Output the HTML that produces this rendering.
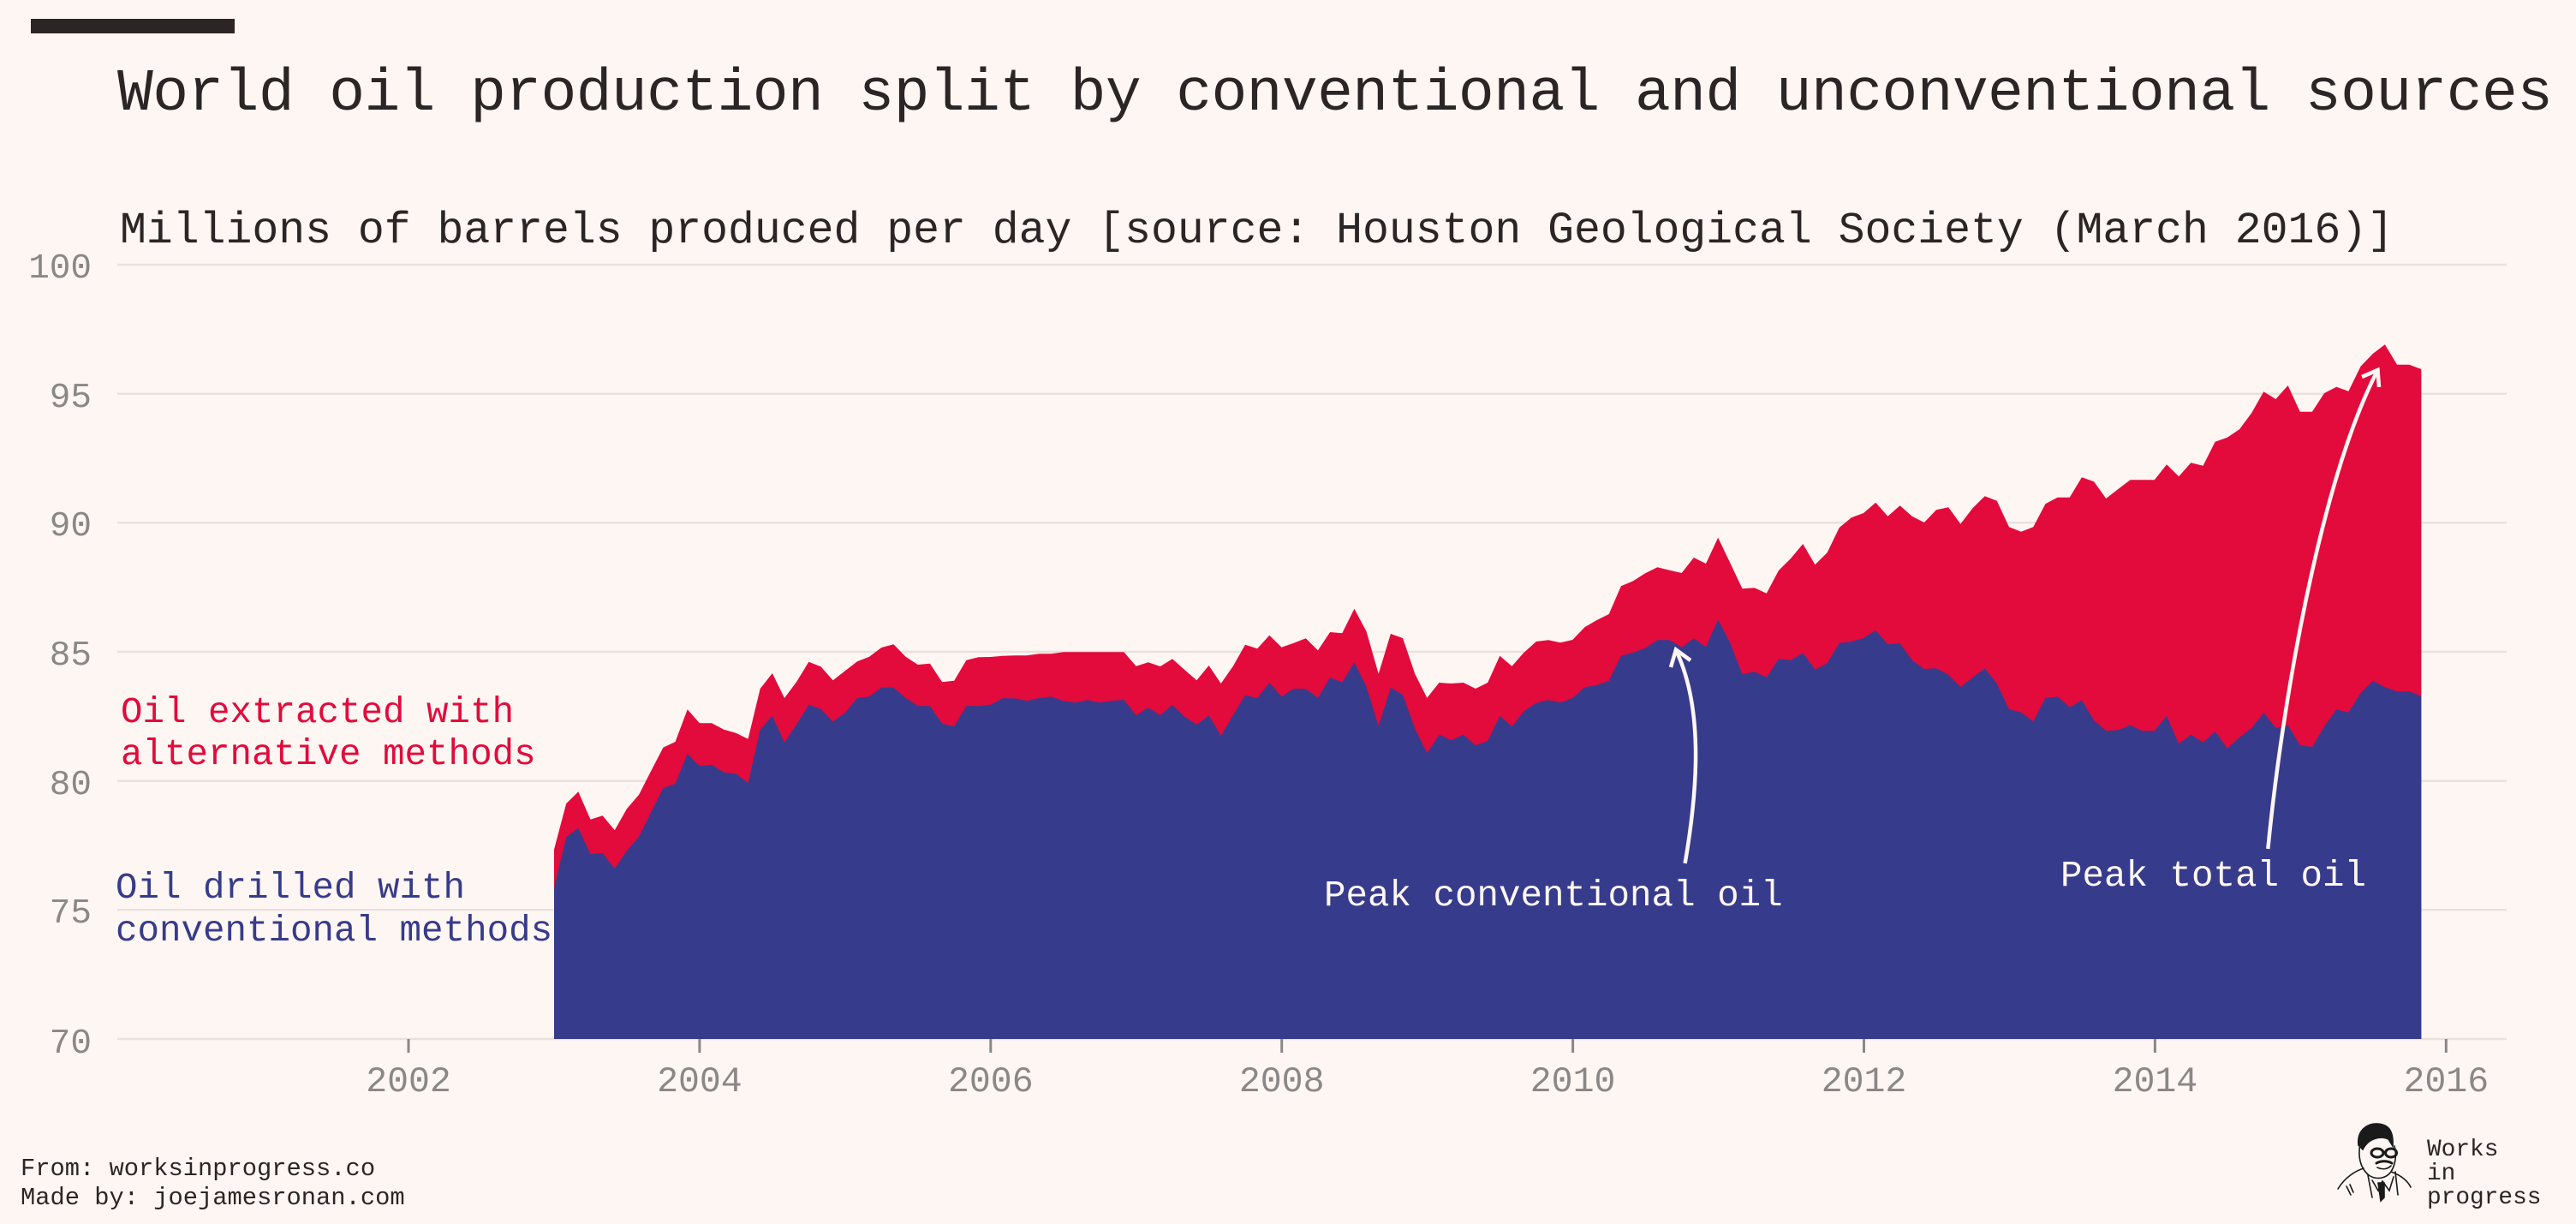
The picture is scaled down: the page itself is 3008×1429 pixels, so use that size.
<!DOCTYPE html>
<html>
<head>
<meta charset="utf-8">
<style>
html,body{margin:0;padding:0;background:#fdf6f3;}
svg{display:block;}
text{font-family:"Liberation Mono","DejaVu Sans Mono",monospace;}
</style>
</head>
<body>
<svg width="3008" height="1429" viewBox="0 0 3008 1429" xmlns="http://www.w3.org/2000/svg">
<rect x="0" y="0" width="3008" height="1429" fill="#fdf6f3"/>
<!-- top bar -->
<rect x="36" y="22" width="238" height="17" fill="#2b2625"/>
<!-- title -->
<text x="137" y="128" font-size="69.7" fill="#2b2625" textLength="2844" lengthAdjust="spacing">World oil production split by conventional and unconventional sources</text>
<text x="140" y="283" font-size="51.5" fill="#2b2625" textLength="2655" lengthAdjust="spacing">Millions of barrels produced per day [source: Houston Geological Society (March 2016)]</text>

<!-- gridlines -->
<g stroke="#e9e1de" stroke-width="2.5">
<line x1="137" y1="309" x2="2927" y2="309"/>
<line x1="137" y1="459.7" x2="2927" y2="459.7"/>
<line x1="137" y1="610.3" x2="2927" y2="610.3"/>
<line x1="137" y1="761" x2="2927" y2="761"/>
<line x1="137" y1="911.7" x2="2927" y2="911.7"/>
<line x1="137" y1="1062.3" x2="2927" y2="1062.3"/>
<line x1="137" y1="1213" x2="2927" y2="1213"/>
</g>

<!-- y labels -->
<g font-size="41" fill="#8a8887" text-anchor="end">
<text x="107" y="324">100</text>
<text x="107" y="475">95</text>
<text x="107" y="625">90</text>
<text x="107" y="776">85</text>
<text x="107" y="927">80</text>
<text x="107" y="1077">75</text>
<text x="107" y="1229">70</text>
</g>

<!-- x ticks -->
<g stroke="#8a8887" stroke-width="3">
<line x1="477" y1="1213" x2="477" y2="1229"/>
<line x1="816.9" y1="1213" x2="816.9" y2="1229"/>
<line x1="1156.8" y1="1213" x2="1156.8" y2="1229"/>
<line x1="1496.7" y1="1213" x2="1496.7" y2="1229"/>
<line x1="1836.6" y1="1213" x2="1836.6" y2="1229"/>
<line x1="2176.5" y1="1213" x2="2176.5" y2="1229"/>
<line x1="2516.4" y1="1213" x2="2516.4" y2="1229"/>
<line x1="2856.3" y1="1213" x2="2856.3" y2="1229"/>
</g>
<g font-size="41.5" fill="#8a8887" text-anchor="middle">
<text x="477" y="1274">2002</text>
<text x="816.9" y="1274">2004</text>
<text x="1156.8" y="1274">2006</text>
<text x="1496.7" y="1274">2008</text>
<text x="1836.6" y="1274">2010</text>
<text x="2176.5" y="1274">2012</text>
<text x="2516.4" y="1274">2014</text>
<text x="2856.3" y="1274">2016</text>
</g>

<!-- areas -->
<g transform="translate(647,0) scale(14.158,1)">
<polygon fill="#e20b3b" points="0,1213 0,991.7 1,938.3 2,924.3 3,956.7 4,952.3 5,969.3 6,944.3 7,927.7 8,900 9,872.7 10,866 11,828.3 12,844.3 13,844.3 14,851.7 15,855.7 16,862.7 17,804 18,786 19,815 20,796 21,772.7 22,778.3 23,794.3 24,783.3 25,772.3 26,766.7 27,756 28,752.3 29,766.7 30,776 31,774.7 32,796.3 33,794.7 34,770.7 35,767.3 36,767 37,765.7 38,765.3 39,765.3 40,763.3 41,763.3 42,761.3 43,761.3 44,761.3 45,761.3 46,761.3 47,761.3 48,777.7 49,773.3 50,778 51,769.3 52,782 53,794.3 54,777 55,798 56,777.7 57,752.7 58,757.3 59,741.7 60,755.7 61,750.7 62,745.3 63,759.3 64,738 65,739.3 66,710.7 67,737.3 68,786.7 69,740 70,745 71,786.7 72,814.7 73,797 74,798 75,797 76,804 77,797 78,765.7 79,777.7 80,761.7 81,749 82,747.3 83,750.3 84,747 85,732.3 86,724 87,717 88,684.3 89,678.3 90,669.3 91,662.3 92,665.7 93,669 94,651 95,658 96,627.7 97,657.3 98,687.3 99,686.3 100,692.7 101,666 102,652 103,635 104,659.3 105,645.3 106,616 107,604.3 108,599 109,586.7 110,602.7 111,590.3 112,602.7 113,610 114,595.3 115,592.3 116,611.7 117,593.3 118,579.3 119,584.7 120,615.3 121,620.7 122,615.3 123,588.3 124,580.7 125,580.7 126,557.3 127,562.3 128,582 129,571 130,560.3 131,560.3 132,560.3 133,542.3 134,556.3 135,540.3 136,543.7 137,515.7 138,510.7 139,501.3 140,482.3 141,457.3 142,466 143,450 144,480.7 145,480.7 146,459 147,451.7 148,456.7 149,427.7 150,413 151,402.3 152,425.7 153,425.7 154,431 154,1213"/>
<polygon fill="#373b8c" points="0,1213 0,1036.7 1,977.3 2,966.7 3,997.3 4,996 5,1014 6,993.3 7,976.7 8,948.3 9,920 10,915 11,880 12,894.3 13,892.7 14,901.7 15,903.3 16,914.3 17,851.7 18,835.7 19,866.7 20,845.7 21,822.7 22,827.7 23,842.3 24,832.3 25,815 26,813.3 27,802.7 28,802.7 29,815 30,824.3 31,824.3 32,844.7 33,848 34,824.3 35,824.3 36,822.7 37,815.3 38,815.3 39,818.3 40,815 41,813.3 42,818.3 43,820.3 44,817.3 45,820.3 46,818.3 47,817 48,835 49,826.3 50,835 51,822.7 52,836.7 53,846 54,835.3 55,859 56,835 57,811.7 58,815 59,797 60,813.3 61,804 62,804.3 63,814.7 64,791 65,796.7 66,773.3 67,802 68,847.7 69,802.7 70,811.3 71,850.7 72,879.3 73,857.7 74,864.3 75,857.7 76,870.3 77,865 78,835.7 79,848.3 80,830 81,820.7 82,817.3 83,820.3 84,815 85,802.3 86,800 87,794.7 88,765.7 89,761.7 90,756.7 91,747.3 92,747.3 93,755.7 94,745.3 95,755.3 96,723.3 97,750.7 98,787.3 99,784.3 100,790.7 101,769.3 102,770.7 103,762.3 104,781.7 105,774.3 106,750.7 107,749 108,745 109,736 110,752.3 111,751 112,770.7 113,781 114,780.3 115,787.7 116,802 117,791 118,780.3 119,798.3 120,828 121,831.7 122,842.3 123,815 124,813.3 125,825.7 126,817.3 127,841 128,853.3 129,852.3 130,846.7 131,853.3 132,853.3 133,835.7 134,868.3 135,857.7 136,866.7 137,854 138,873.7 139,861 140,850 141,832.3 142,850 143,846.7 144,870 145,872 146,848.3 147,828.3 148,831.7 149,809 150,795 151,802.3 152,807.3 153,807.3 154,812.7 154,1213"/>
</g>

<!-- legend labels -->
<g font-size="42.5" fill="#e20b3b">
<text x="141" y="843">Oil extracted with</text>
<text x="141" y="892">alternative methods</text>
</g>
<g font-size="42.5" fill="#373b8c">
<text x="135" y="1048">Oil drilled with</text>
<text x="135" y="1098">conventional methods</text>
</g>

<!-- annotations -->
<g fill="none" stroke="#fdf6f3" stroke-width="4.5" stroke-linecap="butt">
<path d="M1967.6,1008 C1981,930 1991,830 1957,759"/>
<path d="M1951,779 L1957,758.5 L1974,771"/>
<path d="M2648.3,991 C2665,820 2710,560 2776.5,432"/>
<path d="M2758,440 L2776.5,432 L2778,452"/>
</g>
<g font-size="42.5" fill="#fdf6f3">
<text x="1546" y="1057">Peak conventional oil</text>
<text x="2406" y="1034">Peak total oil</text>
</g>

<!-- footer -->
<g font-size="28.75" fill="#2b2625">
<text x="24" y="1372">From: worksinprogress.co</text>
<text x="24" y="1406">Made by: joejamesronan.com</text>
</g>

<!-- logo -->
<g fill="#2b2625" font-size="27.8">
<text x="2834" y="1349">Works</text>
<text x="2834" y="1377">in</text>
<text x="2834" y="1405">progress</text>
</g>
<g stroke="#1a1a1a" fill="none" stroke-width="1.6" stroke-linecap="round">
<path d="M2754,1337 C2752,1320 2764,1311 2777,1312 C2789,1313 2795,1320 2794,1338 L2789,1330 C2781,1326 2766,1328 2759,1342 Z" fill="#1a1a1a"/>
<path d="M2756,1335 C2753,1350 2756,1364 2766,1372 C2775,1378 2786,1376 2792,1368 C2797,1360 2799,1348 2796,1338"/>
<ellipse cx="2776" cy="1346" rx="7" ry="5" stroke-width="3"/>
<ellipse cx="2792" cy="1346" rx="6.5" ry="5" stroke-width="3"/>
<path d="M2783,1345 L2786,1345" stroke-width="2.5"/>
<path d="M2775,1358 C2780,1355 2788,1355 2793,1358" stroke-width="3"/>
<path d="M2776,1363 C2782,1366 2788,1365 2792,1361"/>
<path d="M2730,1388 C2738,1375 2750,1367 2760,1364"/>
<path d="M2792,1368 C2803,1372 2811,1378 2815,1386"/>
<path d="M2740,1385 L2745,1395 M2744,1383 L2748,1392"/>
<path d="M2765,1372 L2770,1398 M2797,1368 L2800,1395"/>
<path d="M2770,1378 L2777,1390 L2782,1379 L2790,1390 L2795,1374"/>
<path d="M2777,1381 L2784,1381 L2784,1398 L2780,1402 Z" fill="#1a1a1a"/>
</g>
</svg>
</body>
</html>
